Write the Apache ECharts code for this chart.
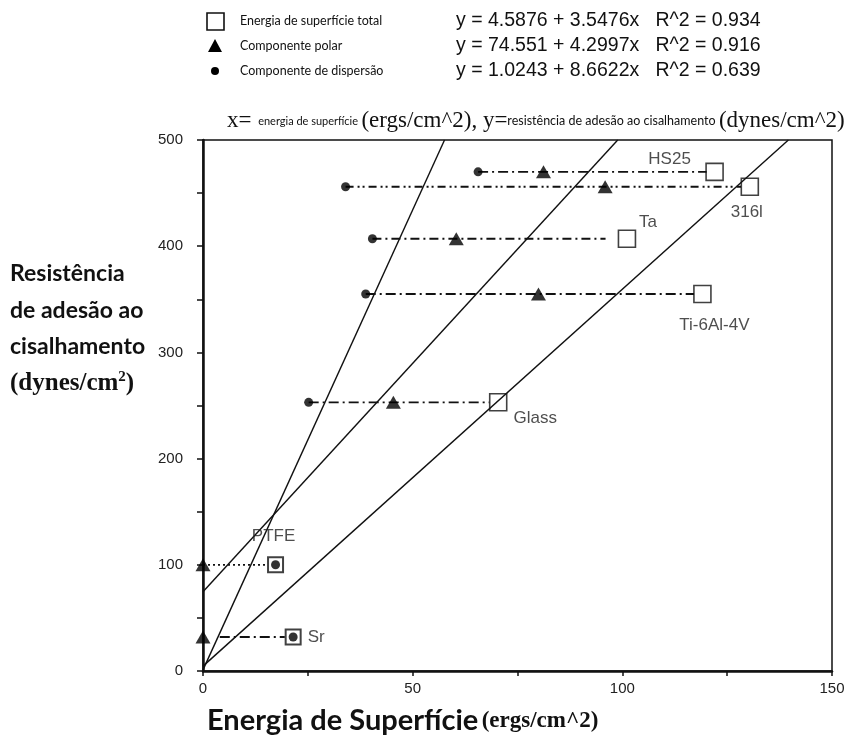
<!DOCTYPE html>
<html><head><meta charset="utf-8">
<script src="https://cdn.jsdelivr.net/npm/echarts@6/dist/echarts.min.js"></script>
<style>html,body{margin:0;padding:0;background:#fff}#c{width:864px;height:753px}</style>
</head><body><div id="c"></div>
<script>
// ---- data ----
const materials = ['HS25', '316l', 'Ta', 'Ti-6Al-4V', 'Glass', 'PTFE', 'Sr'];
const resistance = [470, 456, 407, 355, 253, 100, 32];
const totalEnergy = [122.0, 130.4, 101.1, 119.1, 70.4, 17.3, 21.5];
const polarEnergy = [81.2, 95.9, 60.4, 80.0, 45.4, 0, 0];
const dispersionEnergy = [65.6, 34.0, 40.4, 38.8, 25.2, 17.3, 21.5];
const connectorStart = [65.6, 34.0, 40.4, 38.8, 25.2, 0, 4];
const connectorEnd = [120.1, 128.3, 96.0, 117.1, 68.3, 15.4, 19.5];
const fitNames = ['Energia de superfície total', 'Componente polar', 'Componente de dispersão'];
const fitIntercepts = [4.5876, 74.551, 1.0243];
const fitEndX = [139.6, 98.9, 57.6];
const fitEndY = [500, 500, 500];
const fitEquations = [
  'y = 4.5876 + 3.5476x   R^2 = 0.934',
  'y = 74.551 + 4.2997x   R^2 = 0.916',
  'y = 1.0243 + 8.6622x   R^2 = 0.639'
];
const xTicks = [0, 50, 100, 150];
const yTicks = [0, 100, 200, 300, 400, 500];

// ---- styles ----
const labelOffsets = {
  'HS25': [-45, -13], '316l': [-3, 26], 'Ta': [21, -16], 'Ti-6Al-4V': [12, 31],
  'Glass': [37, 16], 'PTFE': [-2, -28], 'Sr': [23, 0]
};
const connectorDash = {
  'HS25': [10, 4, 2, 4], '316l': [8, 4, 2, 3, 2, 4], 'Ta': [9, 4, 2, 4], 'Ti-6Al-4V': [10, 4, 2, 4],
  'Glass': [10, 4, 2, 4], 'PTFE': [2, 3], 'Sr': [10, 4, 2, 4]
};
const labelFont = {fontFamily: 'Liberation Sans', fontSize: 17, color: '#222'};

const series = [];
// regression lines
fitIntercepts.forEach((b, i) => {
  series.push({
    type: 'line', name: 'fit' + i, z: 2, silent: true, symbol: 'none',
    data: [[0, b], [fitEndX[i], fitEndY[i]]],
    lineStyle: {color: '#111', width: 1.4}
  });
});
// connectors
materials.forEach((m, i) => {
  series.push({
    type: 'line', name: 'conn-' + m, z: 3, silent: true, symbol: 'none',
    data: [[connectorStart[i], resistance[i]], [connectorEnd[i], resistance[i]]],
    lineStyle: {color: '#111', width: 1.8, type: connectorDash[m]}
  });
});
// total energy squares
series.push({
  type: 'scatter', name: fitNames[0], z: 5, clip: false,
  symbol: 'rect', symbolSize: 17,
  itemStyle: {color: 'rgba(0,0,0,0)', borderColor: '#111', borderWidth: 1.6},
  data: materials.map((m, i) => ({
    value: [totalEnergy[i], resistance[i]],
    symbolSize: (m === 'PTFE' || m === 'Sr') ? 15 : 17,
    itemStyle: (m === 'PTFE' || m === 'Sr') ? {borderWidth: 2} : undefined,
    label: Object.assign({show: true, formatter: m, position: 'inside', offset: labelOffsets[m]}, labelFont)
  }))
});
// polar triangles
series.push({
  type: 'scatter', name: fitNames[1], z: 6, clip: false,
  symbol: 'triangle', symbolSize: [15, 13],
  itemStyle: {color: '#000'},
  data: materials.map((m, i) => [polarEnergy[i], resistance[i]])
});
// dispersion circles
series.push({
  type: 'scatter', name: fitNames[2], z: 6, clip: false,
  symbol: 'circle', symbolSize: 9,
  itemStyle: {color: '#000'},
  data: materials.map((m, i) => [dispersionEnergy[i], resistance[i]])
});

const graphic = [];
const legendY = [21, 46, 71];
// legend icons
graphic.push({type: 'rect', shape: {x: 207, y: legendY[0] - 8, width: 17, height: 17},
  style: {fill: 'none', stroke: '#111', lineWidth: 1.6}});
graphic.push({type: 'polygon', shape: {points: [[215, legendY[1] - 7], [208, legendY[1] + 6], [222, legendY[1] + 6]]},
  style: {fill: '#000'}});
graphic.push({type: 'circle', shape: {cx: 215, cy: legendY[2], r: 4}, style: {fill: '#000'}});
fitNames.forEach((n, i) => {
  graphic.push({type: 'text', x: 240, y: legendY[i],
    style: {text: n, fontFamily: 'Lato', fontSize: 12.5, fill: '#111', verticalAlign: 'middle'}});
  graphic.push({type: 'text', x: 456, y: legendY[i],
    style: {text: fitEquations[i], fontFamily: 'Liberation Sans', fontSize: 19.5, fill: '#111', verticalAlign: 'middle', whiteSpace: 'pre'}});
});
graphic.push({type: 'text', x: 227, y: 121,
  style: {
    text: '{s|x=}  {t|energia de superfície} {s|(ergs/cm^2), y=}{u|resistência de adesão ao cisalhamento} {s|(dynes/cm^2)}',
    verticalAlign: 'middle', fill: '#111',
    rich: {
      s: {fontFamily: 'Liberation Serif', fontSize: 23, fill: '#111'},
      t: {fontFamily: 'Lato', fontSize: 11, fill: '#111'},
      u: {fontFamily: 'Lato', fontSize: 12.5, fill: '#111'}
    }
  }});
// y axis title
const yTitle = ['Resistência', 'de adesão ao', 'cisalhamento'];
const yTitleY = [274, 311, 347];
yTitle.forEach((t, i) => {
  graphic.push({type: 'text', x: 10, y: yTitleY[i],
    style: {text: t, fontFamily: 'Lato', fontWeight: 'bold', fontSize: 23, fill: '#111', verticalAlign: 'middle'}});
});
graphic.push({type: 'text', x: 10, y: 384,
  style: {text: '(dynes/cm{sup|2})', fontFamily: 'Liberation Serif', fontWeight: 'bold', fontSize: 25, fill: '#111', verticalAlign: 'middle',
    rich: {sup: {fontFamily: 'Liberation Serif', fontWeight: 'bold', fontSize: 15, fill: '#111', verticalAlign: 'top', padding: [0, 0, 13, 0]}}}});
// x axis title
graphic.push({type: 'text', x: 207, y: 721,
  style: {
    text: '{b|Energia de Superfície} {s|(ergs/cm^2)}', verticalAlign: 'middle', fill: '#111',
    rich: {
      b: {fontFamily: 'Lato', fontWeight: 'bold', fontSize: 29, fill: '#111'},
      s: {fontFamily: 'Liberation Serif', fontWeight: 'bold', fontSize: 23, fill: '#111'}
    }
  }});

const option = {
  animation: false,
  backgroundColor: '#fff',
  grid: {left: 203, right: 32, top: 140, bottom: 82, show: true, borderColor: '#111', borderWidth: 1.5},
  xAxis: {
    type: 'value', min: 0, max: 150, interval: 25,
    axisLine: {onZero: false, lineStyle: {color: '#111', width: 2.5}},
    axisTick: {show: true, length: 5, lineStyle: {color: '#111', width: 1.5}},
    axisLabel: {formatter: v => xTicks.includes(v) ? String(v) : '', fontFamily: 'Liberation Sans', fontSize: 15, color: '#222', margin: 10},
    splitLine: {show: false}
  },
  yAxis: {
    type: 'value', min: 0, max: 500, interval: 50,
    axisLine: {show: true, onZero: false, lineStyle: {color: '#111', width: 2.5}},
    axisTick: {show: true, length: 6, lineStyle: {color: '#111', width: 1.5}},
    axisLabel: {formatter: v => yTicks.includes(v) ? String(v) : '', fontFamily: 'Liberation Sans', fontSize: 15, color: '#222', margin: 20},
    splitLine: {show: false}
  },
  graphic: graphic,
  series: series
};
const chart = echarts.init(document.getElementById('c'), null, {renderer: 'canvas'});
chart.setOption(option);
</script>
</body></html>
